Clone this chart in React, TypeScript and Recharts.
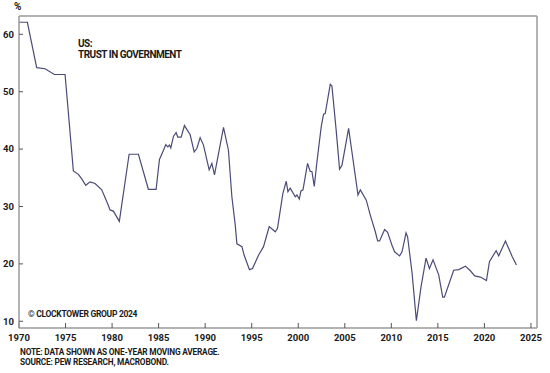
import { LineChart, Line, XAxis, YAxis, ReferenceLine } from 'recharts'

const LINE = '#4b4b78'
const FRAME = '#9a9a9a'
const INK = '#1a1a1a'
const FONT = 'Roboto, "Noto Sans", sans-serif'

// one point per visible turn of the line
const years = [
    1970.0, 1970.9, 1971.9, 1972.8, 1973.8, 1974.95, 1975.84, 1976.38, 1976.74, 1977.17,
    1977.63, 1978.17, 1978.89, 1979.57, 1979.78, 1980.14, 1980.78, 1981.83, 1982.83, 1983.9,
    1984.73, 1985.09, 1985.52, 1985.77, 1985.99, 1986.16, 1986.31, 1986.59, 1986.88, 1987.06,
    1987.42, 1987.77, 1988.39, 1988.82, 1989.11, 1989.46, 1989.82, 1990.43, 1990.72, 1991.0,
    1991.97, 1992.5, 1992.87, 1993.23, 1993.41, 1993.95, 1994.19, 1994.76, 1995.09, 1995.73,
    1996.27, 1996.88, 1997.53, 1997.77, 1997.99, 1998.35, 1998.71, 1998.89, 1999.14, 1999.68,
    1999.86, 2000.11, 2000.29, 2000.51, 2001.0, 2001.29, 2001.47, 2001.72, 2002.01, 2002.47,
    2002.72, 2002.9, 2003.44, 2003.62, 2004.09, 2004.44, 2004.7, 2005.41, 2005.77, 2006.42,
    2006.67, 2007.31, 2007.74, 2008.28, 2008.53, 2008.74, 2009.28, 2009.6, 2010.08, 2010.35,
    2010.89, 2011.15, 2011.58, 2011.75, 2012.23, 2012.69, 2013.19, 2013.73, 2014.09, 2014.48,
    2015.09, 2015.52, 2015.7, 2016.7, 2017.24, 2017.96, 2018.49, 2018.96, 2019.57, 2020.22,
    2020.54, 2021.26, 2021.54, 2022.26, 2022.98, 2023.44,
]

const trust = [
    62.1, 62.1, 54.2, 54.0, 53.0, 53.0, 36.2, 35.6, 34.8, 33.7,
    34.3, 34.0, 32.9, 30.3, 29.4, 29.2, 27.4, 39.1, 39.1, 33.0,
    33.0, 38.2, 39.8, 40.8, 40.4, 40.7, 40.2, 42.2, 42.9, 42.1,
    42.1, 44.1, 42.5, 39.5, 40.1, 42.0, 40.7, 36.4, 37.5, 35.5,
    43.8, 39.8, 31.7, 26.8, 23.5, 23.0, 21.5, 19.0, 19.2, 21.5,
    23.0, 26.5, 25.6, 26.2, 28.5, 32.3, 34.4, 32.6, 33.2, 31.7,
    32.0, 31.3, 32.7, 32.9, 37.5, 36.1, 36.1, 33.5, 37.8, 43.9,
    46.1, 46.2, 51.3, 51.0, 43.0, 36.5, 37.2, 43.6, 39.5, 32.0,
    32.9, 31.1, 28.5, 25.6, 24.0, 24.0, 26.0, 25.5, 23.2, 22.1,
    21.4, 22.1, 25.4, 24.7, 18.4, 10.1, 16.0, 21.0, 19.2, 20.7,
    18.1, 14.2, 14.2, 18.9, 19.0, 19.6, 18.8, 17.9, 17.7, 17.1,
    20.4, 22.3, 21.4, 24.0, 21.3, 19.8,
]

const xTicks = [1970, 1975, 1980, 1985, 1990, 1995, 2000, 2005, 2010, 2015, 2020, 2025]
const yTicks = [10, 20, 30, 40, 50, 60]

const X_MIN = 1970
const X_MAX = 2025.65
const Y_MIN = 8.83
const Y_MAX = 63.19

const data = years.map((year, i) => ({ year, trust: trust[i] }))

const tickStyle = { fill: INK, fontSize: 9.5, fontWeight: 700, fontFamily: FONT }

const App = () => {
    return (
        <div style={{ position: 'absolute', left: 0, top: 0, width: 550, height: 373, background: '#fff', fontFamily: FONT }}>
            <LineChart width={550} height={373} data={data} margin={{ top: 16, right: 13, bottom: 25, left: 0 }}>
                <XAxis
                    dataKey="year"
                    type="number"
                    domain={[X_MIN, X_MAX]}
                    ticks={xTicks}
                    height={20}
                    tickSize={-5}
                    tickMargin={11}
                    stroke={FRAME}
                    strokeWidth={1.5}
                    tick={tickStyle}
                    tickLine={{ stroke: '#555', strokeWidth: 1 }}
                    interval={0}
                />
                <YAxis
                    type="number"
                    domain={[Y_MIN, Y_MAX]}
                    ticks={yTicks}
                    width={19}
                    tickSize={-4}
                    tickMargin={9}
                    stroke={FRAME}
                    strokeWidth={1.5}
                    tick={tickStyle}
                    tickLine={{ stroke: '#555', strokeWidth: 1 }}
                    interval={0}
                    allowDataOverflow
                />
                <ReferenceLine y={Y_MAX} stroke={FRAME} strokeWidth={1.5} />
                <ReferenceLine x={X_MAX} stroke={FRAME} strokeWidth={1.5} />
                <Line
                    type="linear"
                    dataKey="trust"
                    stroke={LINE}
                    strokeWidth={1.2}
                    dot={false}
                    isAnimationActive={false}
                />
            </LineChart>

            <div style={{ position: 'absolute', left: 14, top: 1, fontSize: 10, fontWeight: 700, color: INK }}>%</div>
            <div style={{ position: 'absolute', left: 78, top: 38, fontSize: 10, fontWeight: 700, color: INK, lineHeight: '11px', letterSpacing: -0.5 }}>
                US:<br />TRUST IN GOVERNMENT
            </div>
            <div style={{ position: 'absolute', left: 28, top: 309, fontSize: 8.5, fontWeight: 700, color: INK, letterSpacing: -0.3 }}>
                © CLOCKTOWER GROUP 2024
            </div>
            <div style={{ position: 'absolute', left: 20, top: 347, fontSize: 8.3, fontWeight: 700, color: INK, lineHeight: '10px', letterSpacing: -0.2 }}>
                NOTE: DATA SHOWN AS ONE-YEAR MOVING AVERAGE.<br />SOURCE: PEW RESEARCH, MACROBOND.
            </div>
        </div>
    )
}

export default App
